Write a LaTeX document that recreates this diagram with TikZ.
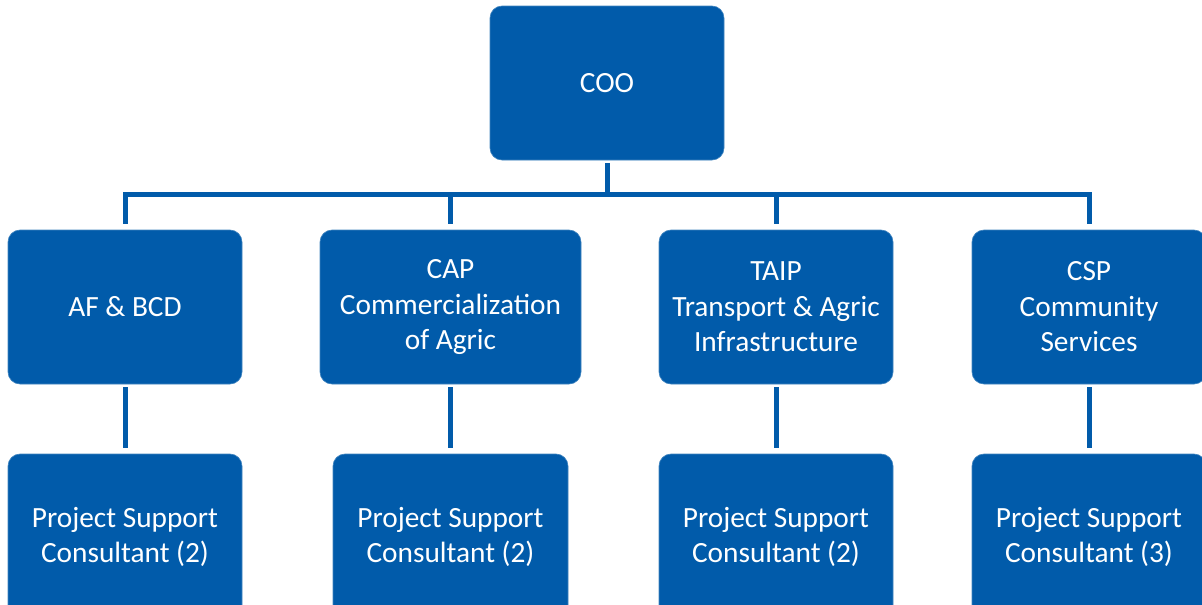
\documentclass[tikz,border=0pt]{standalone}
\usepackage{fontspec}
\setmainfont{Carlito}
\definecolor{boxblue}{RGB}{1,91,170}
\tikzset{
  orgbox/.style={draw=boxblue!75!white, line width=0.5pt, fill=boxblue, rounded corners=9pt,
    minimum width=175.5pt, minimum height=115.5pt, inner sep=0pt, align=center,
    text=white, font=\fontsize{22}{26.6}\selectfont},
  widebox/.style={orgbox, minimum width=195.75pt},
  tallbox/.style={orgbox, minimum height=124.5pt},
  conn/.style={draw=boxblue, line width=3.75pt, line join=miter}
}
\begin{document}
\begin{tikzpicture}[x=0.75pt,y=-0.75pt]
\useasboundingbox (0,0) rectangle (1202,604);
\clip (0,0) rectangle (1202,604);
\node[orgbox] (coo) at (607,83) {COO};
\node[orgbox] (af) at (125,307) {AF \& BCD};
\node[widebox] (cap) at (450.5,307) {CAP\\Commercialization\\of Agric};
\node[orgbox] (taip) at (776,307) {TAIP\\Transport \& Agric\\Infrastructure};
\node[orgbox] (csp) at (1089,307) {CSP\\Community\\Services};
\node[tallbox] (ps1) at (125,537) {Project Support\\Consultant (2)};
\node[tallbox, minimum width=176.25pt] (ps2) at (450.5,537) {Project Support\\Consultant (2)};
\node[tallbox] (ps3) at (776,537) {Project Support\\Consultant (2)};
\node[tallbox] (ps4) at (1089,537) {Project Support\\Consultant (3)};
\coordinate (bus) at (607,194);
\draw[conn] ([yshift=-2.25pt]coo.south) -- (coo.south |- bus);
\draw[conn] ([yshift=4.5pt]af.north) -- (af.north |- bus) -- (csp.north |- bus) -- ([yshift=4.5pt]csp.north);
\draw[conn] (cap.north |- bus) -- ([yshift=4.5pt]cap.north);
\draw[conn] (taip.north |- bus) -- ([yshift=4.5pt]taip.north);
\draw[conn] ([yshift=-2.25pt]af.south) -- ([yshift=4.5pt]ps1.north);
\draw[conn] ([yshift=-2.25pt]cap.south) -- ([yshift=4.5pt]ps2.north);
\draw[conn] ([yshift=-2.25pt]taip.south) -- ([yshift=4.5pt]ps3.north);
\draw[conn] ([yshift=-2.25pt]csp.south) -- ([yshift=4.5pt]ps4.north);
\end{tikzpicture}
\end{document}
